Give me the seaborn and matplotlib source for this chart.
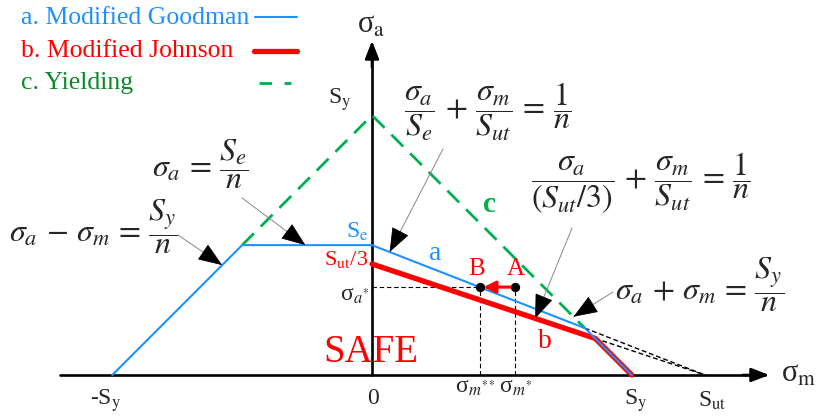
import matplotlib
matplotlib.use("Agg")
import matplotlib.pyplot as plt
import seaborn as sns
import pandas as pd

# Material strengths (same units on both axes)
S_ut = 100.0
S_y = 78.0
S_e = 39.0

# Operating point A and its projection B onto the Goodman line
sigma_a_star = 26.4
sigma_m_star = 43.0

BLUE = "#1E90FF"
RED = "#FF0000"
GREEN_LINE = "#00B050"
GREEN_TEXT = "#0A8A2A"

sns.set_theme(style="white")
plt.rcParams["font.family"] = ["Liberation Serif", "DejaVu Serif"]
plt.rcParams["mathtext.fontset"] = "stix"

fig = plt.figure(figsize=(8.22, 4.18), dpi=100)
ax = fig.add_axes([0, 0, 1, 1])

# pixel scale of the drawing: 3.33 px per stress unit, origin at (372, 375)
SC = 3.33
X0, Y0 = 372, 375
ax.set_xlim(-X0 / SC, (822 - X0) / SC)
ax.set_ylim(-(418 - Y0) / SC, Y0 / SC)
ax.axis("off")


def P(px, py):
    """Pixel position in the figure -> data coordinates."""
    return ((px - X0) / SC, (Y0 - py) / SC)


# derived corner points
g_m = (S_y - S_e) / (1 - S_e / S_ut)          # Goodman / yield intersection
g_a = S_y - g_m
j_m = (S_y - S_ut / 3) / (1 - 1 / 3)          # Johnson / yield intersection
j_a = S_y - j_m
b_m = (1 - sigma_a_star / S_e) * S_ut         # point B on the Goodman line

goodman = pd.DataFrame({"m": [-S_y, -(S_y - S_e), 0, g_m, S_y],
                        "a": [0, S_e, S_e, g_a, 0]})
johnson = pd.DataFrame({"m": [0, j_m, S_y], "a": [S_ut / 3, j_a, 0]})
yielding = pd.DataFrame({"m": [-(S_y - S_e), 0, g_m], "a": [S_e, S_y, g_a]})
ext1 = pd.DataFrame({"m": [g_m, S_ut], "a": [g_a, 0]})
ext2 = pd.DataFrame({"m": [j_m, S_ut], "a": [j_a, 0]})

# axes with arrow heads
ax.plot([P(60, 0)[0], P(765, 0)[0]], [0, 0], color="black", lw=1.9, zorder=2)
ax.plot([0, 0], [0, P(0, 45)[1]], color="black", lw=1.9, zorder=2)
ax.annotate("", xy=P(772, 375), xytext=P(740, 375),
            arrowprops=dict(arrowstyle="-|>,head_length=0.9,head_width=0.35",
                            color="black", lw=1.9), zorder=3)
ax.annotate("", xy=P(372, 38), xytext=P(372, 70),
            arrowprops=dict(arrowstyle="-|>,head_length=0.9,head_width=0.35",
                            color="black", lw=1.9), zorder=3)

# extensions toward S_ut
for df in (ext1, ext2):
    sns.lineplot(data=df, x="m", y="a", sort=False, ax=ax, color="black",
                 lw=1.0, linestyle=(0, (3.5, 2)), zorder=3)

sns.lineplot(data=yielding, x="m", y="a", sort=False, ax=ax, color=GREEN_LINE,
             lw=2.0, linestyle=(0, (6, 3.5)), zorder=4)
sns.lineplot(data=johnson, x="m", y="a", sort=False, ax=ax, color=RED,
             lw=3.8, zorder=5)
sns.lineplot(data=goodman, x="m", y="a", sort=False, ax=ax, color=BLUE,
             lw=1.5, zorder=6)

# operating point construction
ax.plot([0, b_m], [sigma_a_star, sigma_a_star], color="black", lw=0.8,
        linestyle=(0, (4, 2.5)), zorder=3)
ax.plot([b_m, b_m], [0, sigma_a_star], color="black", lw=0.8,
        linestyle=(0, (4, 2.5)), zorder=3)
ax.plot([sigma_m_star, sigma_m_star], [0, sigma_a_star], color="black", lw=0.8,
        linestyle=(0, (4, 2.5)), zorder=3)
ax.annotate("", xy=(b_m + 1.2, sigma_a_star), xytext=(sigma_m_star, sigma_a_star),
            arrowprops=dict(arrowstyle="-|>,head_length=0.6,head_width=0.3",
                            color=RED, lw=2.2, shrinkA=0, shrinkB=0), zorder=7)
sns.scatterplot(x=[b_m, sigma_m_star], y=[sigma_a_star, sigma_a_star], ax=ax,
                color="black", s=45, zorder=8, linewidth=0)

# legend
LG = 18.5
ax.text(*P(21, 18), "a. Modified Goodman", color=BLUE, fontsize=LG, va="center")
ax.text(*P(21, 51), "b. Modified Johnson", color=RED, fontsize=LG, va="center")
ax.text(*P(21, 83), "c. Yielding", color=GREEN_TEXT, fontsize=LG, va="center")
ax.plot([P(255, 0)[0], P(297, 0)[0]], [P(0, 17)[1]] * 2, color=BLUE, lw=1.5)
ax.plot([P(254, 0)[0], P(297, 0)[0]], [P(0, 51)[1]] * 2, color=RED, lw=3.8)
ax.plot([P(259, 0)[0], P(291, 0)[0]], [P(0, 83)[1]] * 2, color=GREEN_LINE,
        lw=2.0, linestyle=(0, (4.5, 4.5)))

# axis labels and tick labels
TK = 17
ax.text(*P(357, 25), r"σ$_{\mathrm{a}}$", fontsize=22, va="center", ha="left")
ax.text(*P(781, 374), r"σ$_{\mathrm{m}}$", fontsize=22, va="center", ha="left")
ax.text(*P(340, 100), r"S$_{\mathrm{y}}$", fontsize=TK, va="center", ha="center")
ax.text(*P(357, 232), r"S$_{\mathrm{e}}$", fontsize=TK, va="center",
        ha="center", color=BLUE)
ax.text(*P(346, 259), r"S$_{\mathrm{ut}}$/3", fontsize=16, va="center",
        ha="center", color=RED)
ax.text(*P(355, 296), r"σ$_{a^{*}}$", fontsize=TK, va="center", ha="center")
ax.text(*P(373, 398), "0", fontsize=TK, va="center", ha="center")
ax.text(*P(106, 401), r"-S$_{\mathrm{y}}$", fontsize=TK, va="center", ha="center")
ax.text(*P(475, 387), r"σ$_{m^{**}}$", fontsize=TK, va="center", ha="center")
ax.text(*P(516, 387), r"σ$_{m^{*}}$", fontsize=TK, va="center", ha="center")
ax.text(*P(636, 401), r"S$_{\mathrm{y}}$", fontsize=TK, va="center", ha="center")
ax.text(*P(712, 401), r"S$_{\mathrm{ut}}$", fontsize=TK, va="center", ha="center")

ax.text(*P(371, 352), "SAFE", fontsize=28, color=RED, va="center", ha="center")
ax.text(*P(435, 254), "a", fontsize=20, color=BLUE, va="center", ha="center")
ax.text(*P(545, 342), "b", fontsize=20, color=RED, va="center", ha="center")
ax.text(*P(489, 204), "c", fontsize=21, color=GREEN_LINE, fontweight="bold",
        va="center", ha="center")
ax.text(*P(516, 269), "A", fontsize=18, color=RED, va="center", ha="center")
ax.text(*P(477, 269), "B", fontsize=18, color=RED, va="center", ha="center")

# criterion equations with leader arrows
EQ = 23
ax.text(*P(488, 112),
        r"$\dfrac{\sigma_a}{S_e}\,+\,\dfrac{\sigma_m}{S_{ut}}\,=\,\dfrac{1}{n}$",
        fontsize=EQ, va="center", ha="center")
ax.text(*P(641, 183),
        r"$\dfrac{\sigma_a}{(S_{ut}/3)}\,+\,\dfrac{\sigma_m}{S_{ut}}\,=\,\dfrac{1}{n}$",
        fontsize=EQ, va="center", ha="center")
ax.text(*P(700, 285), r"$\sigma_a\,+\,\sigma_m\,=\,\dfrac{S_y}{n}$",
        fontsize=EQ, va="center", ha="center")
ax.text(*P(200, 164), r"$\sigma_a\,=\,\dfrac{S_e}{n}$",
        fontsize=EQ, va="center", ha="center")
ax.text(*P(94, 227), r"$\sigma_a\,-\,\sigma_m\,=\,\dfrac{S_y}{n}$",
        fontsize=EQ, va="center", ha="center")


def leader(start_px, tip):
    sx, sy = P(*start_px)
    ax.annotate("", xy=tip, xytext=(sx, sy),
                arrowprops=dict(arrowstyle="-", color="#888888", lw=0.7,
                                shrinkA=0, shrinkB=0), zorder=9)
    dx, dy = tip[0] - sx, tip[1] - sy
    k = 0.2
    ax.annotate("", xy=tip, xytext=(tip[0] - dx * k, tip[1] - dy * k),
                arrowprops=dict(arrowstyle="-|>,head_length=1.3,head_width=0.5",
                                color="black", lw=0.6, shrinkA=0, shrinkB=0),
                zorder=9)


tip_goodman = (5.3, S_e * (1 - 5.3 / S_ut))
tip_johnson = (49.0, S_ut / 3 * (1 - 49.0 / S_ut))
tip_yield = (60.5, S_y - 60.5)
tip_flat = (-20.0, S_e)
tip_left = (-45.0, S_y - 45.0)

leader((443, 149), tip_goodman)
leader((572, 228), tip_johnson)
leader((613, 292), tip_yield)
leader((242, 198), tip_flat)
leader((178, 235), tip_left)

fig.savefig("out.png", dpi=100)
